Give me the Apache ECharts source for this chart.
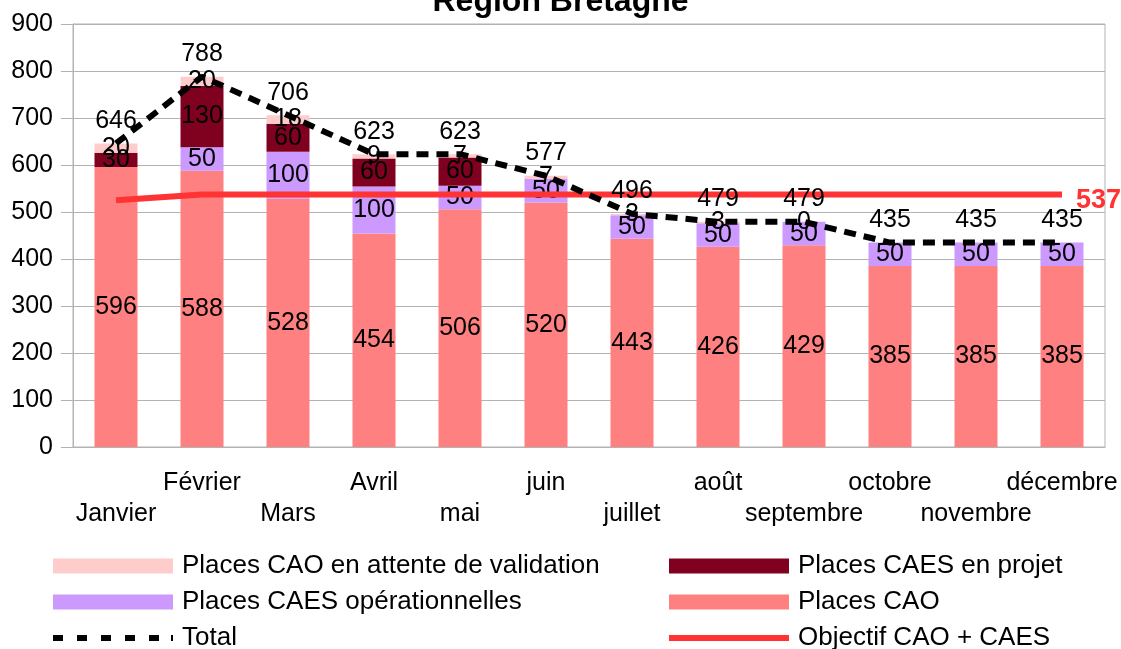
<!DOCTYPE html>
<html>
<head>
<meta charset="utf-8">
<script src="https://cdn.jsdelivr.net/npm/echarts@6/dist/echarts.min.js"></script>
<style>
  html, body { margin: 0; padding: 0; background: #fff; }
  #chart { width: 1121px; height: 649px; }
</style>
</head>
<body>
<div id="chart"></div>
<script>
const months = ['Janvier', 'Février', 'Mars', 'Avril', 'mai', 'juin', 'juillet', 'août', 'septembre', 'octobre', 'novembre', 'décembre'];
const placesCAO = [596, 588, 528, 454, 506, 520, 443, 426, 429, 385, 385, 385];
const caesOperationnelles = [null, 50, 100, 100, 50, 50, 50, 50, 50, 50, 50, 50];
const caesEnProjet = [30, 130, 60, 60, 60, null, null, null, null, null, null, null];
const caoEnAttente = [20, 20, 18, 9, 7, 7, 3, 3, 0, null, null, null];
const total = [646, 788, 706, 623, 623, 577, 496, 479, 479, 435, 435, 435];
const objectif = [525, 537, 537, 537, 537, 537, 537, 537, 537, 537, 537, 537];
const yTicks = { min: 0, max: 900, interval: 100 };

const font = 'Liberation Sans';
const grey = '#b3b3b3';

const chart = echarts.init(document.getElementById('chart'));

const barLabel = { show: true, position: 'inside', color: '#000', fontSize: 25, fontFamily: font };

const bars = [
    { name: 'Places CAO', data: placesCAO, color: '#ff8080' },
    { name: 'Places CAES opérationnelles', data: caesOperationnelles, color: '#cc99ff' },
    { name: 'Places CAES en projet', data: caesEnProjet, color: '#800020' },
    { name: 'Places CAO en attente de validation', data: caoEnAttente, color: '#ffcccc' },
].map((s) => ({
    name: s.name,
    type: 'bar',
    stack: 'places',
    barWidth: '50%',
    data: s.data,
    itemStyle: { color: s.color },
    label: barLabel,
}));

// dashed legend icon for the total line
const dashIcon = 'path://M0,0h10v6h-10z M24,0h10v6h-10z M48,0h10v6h-10z M72,0h10v6h-10z M96,0h10v6h-10z M118,0h2v6h-2z';

// one legend per entry, laid out as two columns of three rows
const legendItems = [
    { name: 'Places CAO en attente de validation', left: 53, row: 0 },
    { name: 'Places CAES opérationnelles', left: 53, row: 1 },
    { name: 'Total', left: 53, row: 2, icon: dashIcon, h: 6 },
    { name: 'Places CAES en projet', left: 669, row: 0 },
    { name: 'Places CAO', left: 669, row: 1 },
    { name: 'Objectif CAO + CAES', left: 669, row: 2, icon: 'rect', h: 6 },
];

const legends = legendItems.map((it) => ({
    left: it.left,
    top: 553 + it.row * 36,
    padding: 0,
    itemWidth: 120,
    itemHeight: it.h || 15,
    icon: it.icon || 'rect',
    selectedMode: false,
    data: [it.name],
    textStyle: { fontSize: 26, fontFamily: font, color: '#000', padding: [0, 0, 0, 4] },
}));

chart.setOption({
    animation: false,
    textStyle: { fontFamily: font },
    title: {
        text: 'Région Bretagne',
        left: 'center',
        top: -19,
        textStyle: { fontSize: 32, fontWeight: 'bold', color: '#000', fontFamily: font },
    },
    legend: legends,
    grid: {
        left: 73,
        right: 16,
        top: 24,
        bottom: 202,
        show: true,
        borderColor: grey,
        borderWidth: 1,
    },
    xAxis: {
        type: 'category',
        data: months,
        axisLine: { lineStyle: { color: grey } },
        axisTick: { length: 11, lineStyle: { color: grey } },
        axisLabel: {
            interval: 0,
            color: '#000',
            fontSize: 25,
            lineHeight: 31,
            margin: 21,
            formatter(val, i) {
                return i % 2 === 0 ? '\n' + val : val;
            },
        },
    },
    yAxis: {
        type: 'value',
        ...yTicks,
        axisLine: { show: true, lineStyle: { color: grey } },
        axisTick: { show: true, length: 12, lineStyle: { color: grey } },
        splitLine: { lineStyle: { color: grey } },
        axisLabel: { color: '#000', fontSize: 25, margin: 20 },
    },
    series: [
        ...bars,
        {
            name: 'Objectif CAO + CAES',
            type: 'line',
            data: objectif,
            symbol: 'none',
            lineStyle: { color: '#ff3333', width: 6 },
            itemStyle: { color: '#ff3333' },
            endLabel: {
                show: true,
                color: '#ff3333',
                fontSize: 27,
                fontWeight: 'bold',
                fontFamily: font,
                distance: 14,
                offset: [0, 6],
            },
        },
        {
            name: 'Total',
            type: 'line',
            data: total,
            symbol: 'circle',
            symbolSize: 0,
            showAllSymbol: true,
            lineStyle: { color: '#000', width: 6, type: [12, 8] },
            itemStyle: { color: '#000' },
            label: { show: true, position: 'top', distance: 10, color: '#000', fontSize: 25, fontFamily: font },
        },
    ],
});
</script>
</body>
</html>
